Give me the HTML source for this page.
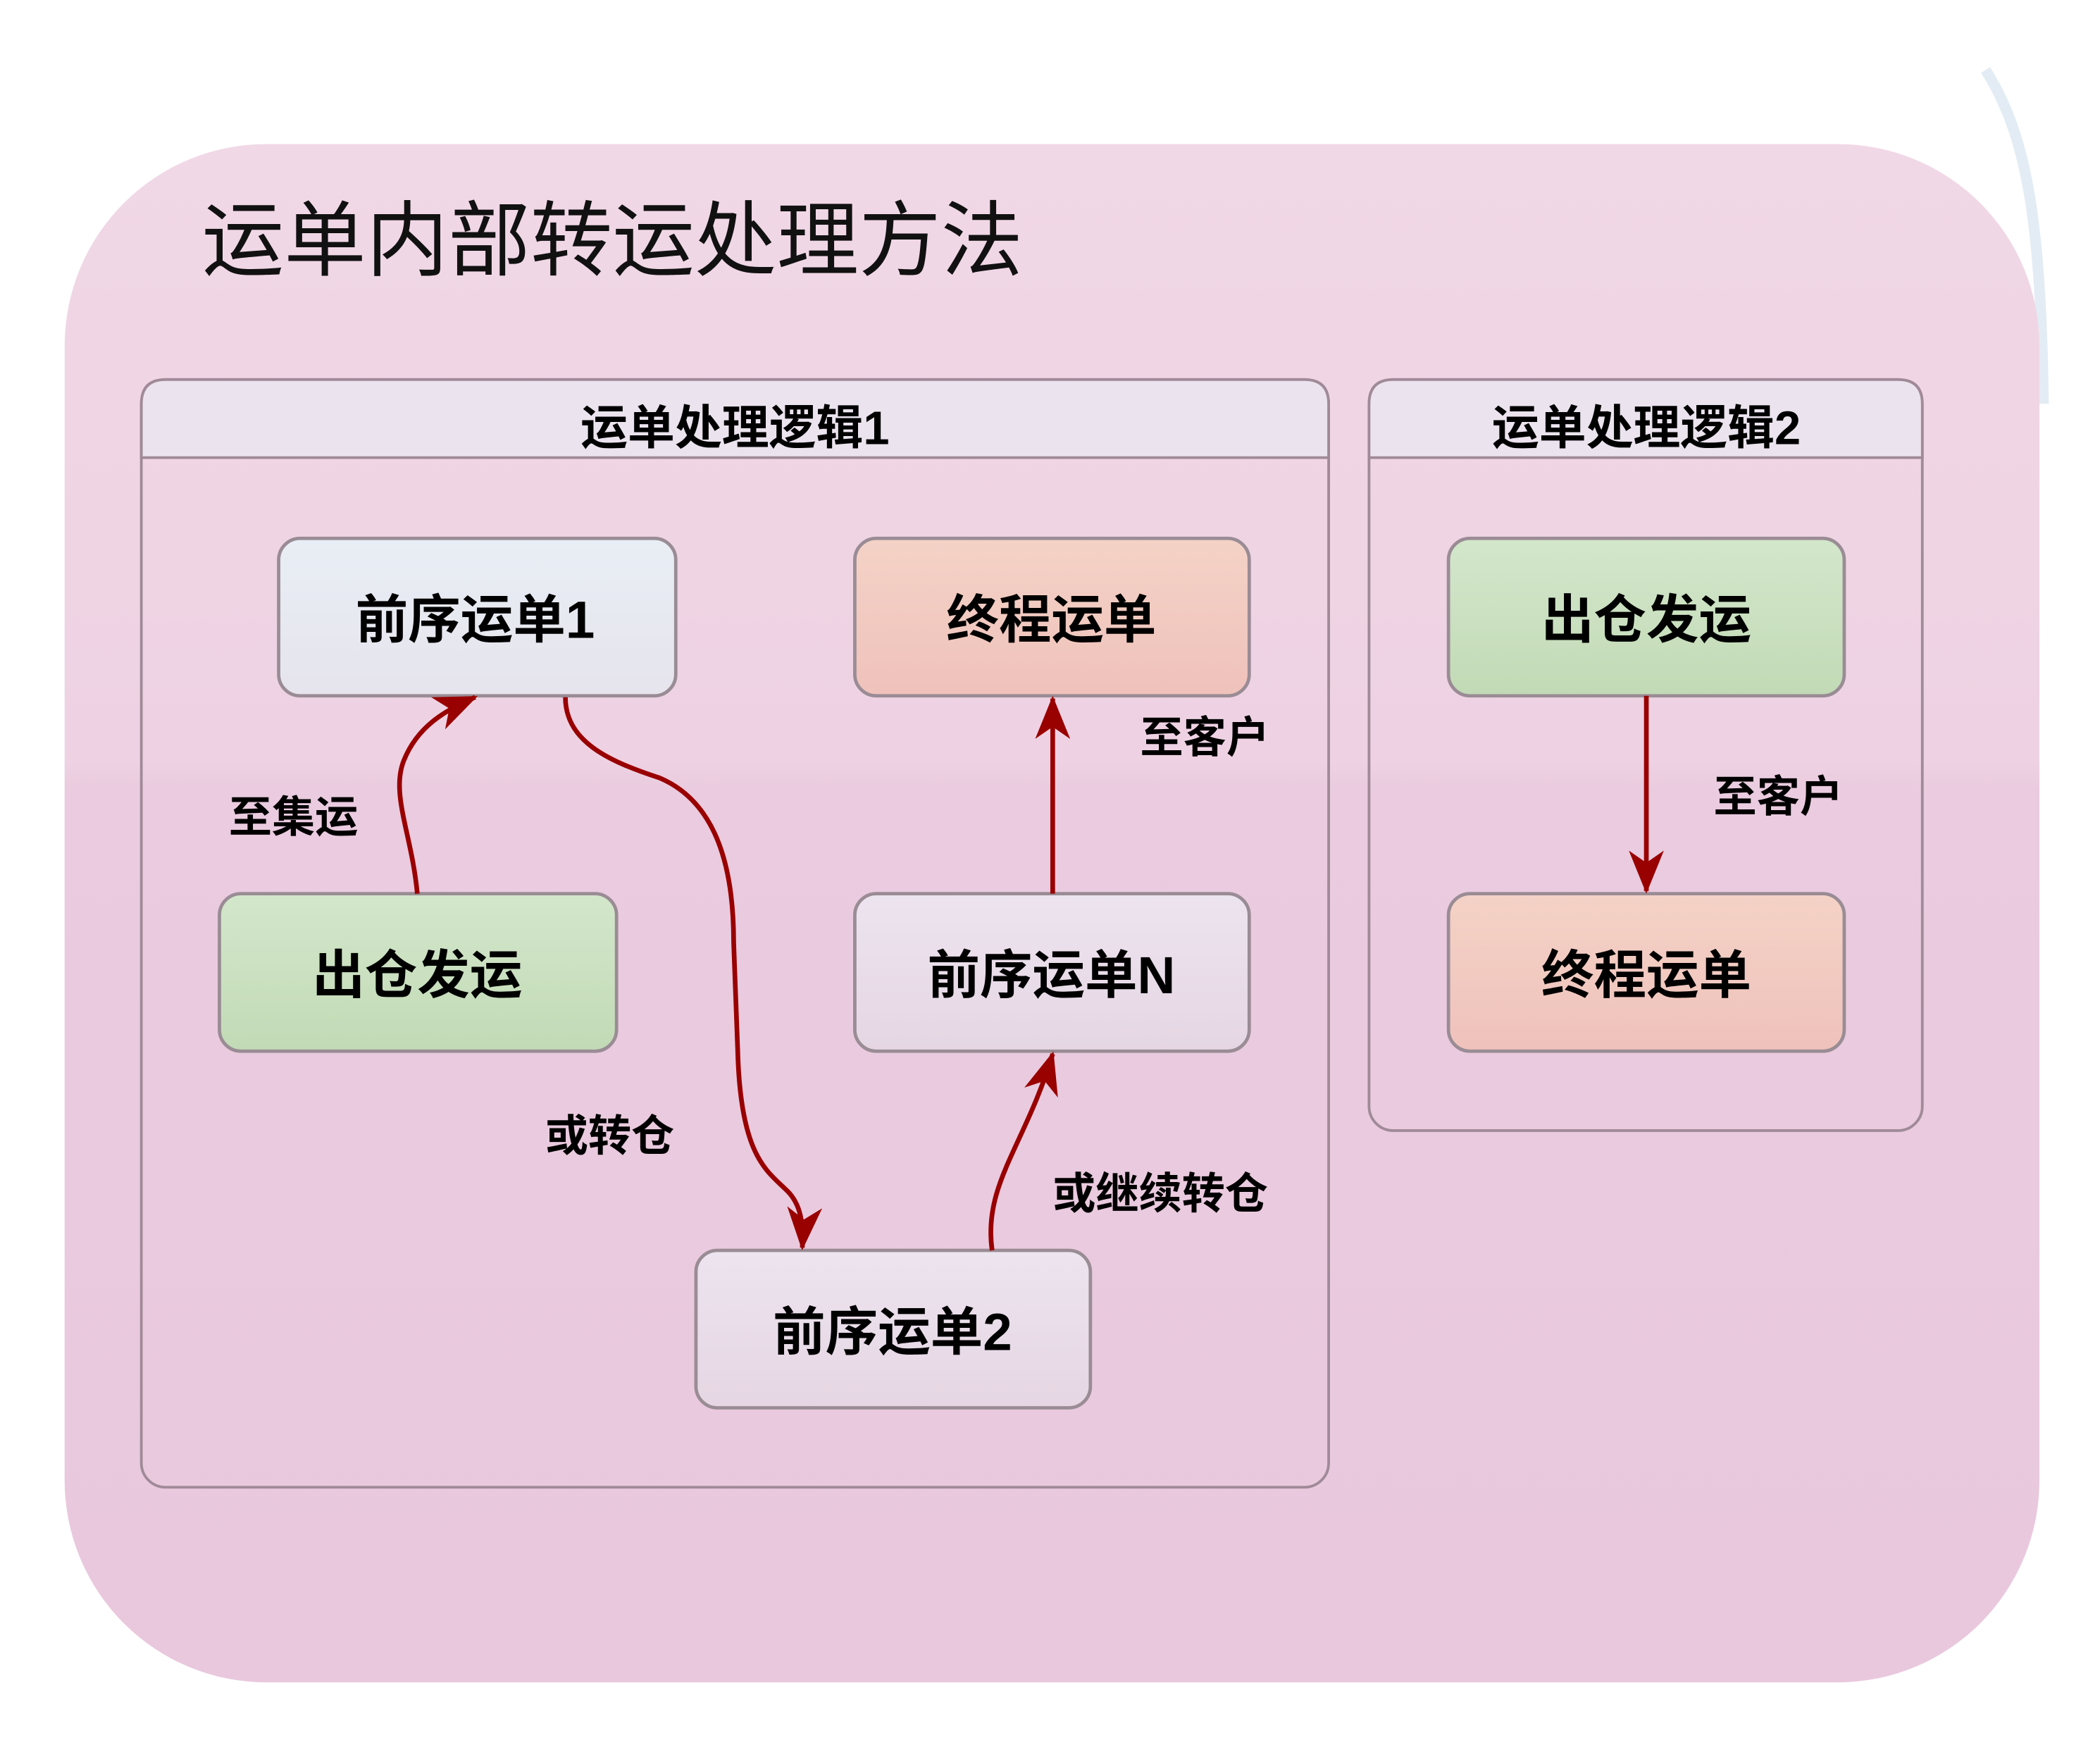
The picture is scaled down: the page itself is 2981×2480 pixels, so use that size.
<!DOCTYPE html>
<html><head><meta charset="utf-8"><style>
html,body{margin:0;padding:0;background:#fff;width:2981px;height:2480px;overflow:hidden}
svg{display:block}
text{font-family:"Liberation Sans","Noto Sans CJK SC",sans-serif}
</style></head><body>
<svg width="2981" height="2480" viewBox="0 0 1560 1298" preserveAspectRatio="none" xmlns="http://www.w3.org/2000/svg">
<defs>
<linearGradient id="bg" x1="0" y1="0" x2="0" y2="1"><stop offset="0" stop-color="#f1d8e6"/><stop offset="0.4" stop-color="#eed2e3"/><stop offset="0.42" stop-color="#eacbdf"/><stop offset="1" stop-color="#e9c8dd"/></linearGradient>
<linearGradient id="gb" x1="0" y1="0" x2="0" y2="1"><stop offset="0" stop-color="#e8eef5"/><stop offset="1" stop-color="#e6e4ec"/></linearGradient>
<linearGradient id="gr" x1="0" y1="0" x2="0" y2="1"><stop offset="0" stop-color="#f4d2c6"/><stop offset="1" stop-color="#efc2bb"/></linearGradient>
<linearGradient id="gg" x1="0" y1="0" x2="0" y2="1"><stop offset="0" stop-color="#d3e7cb"/><stop offset="1" stop-color="#c2dab6"/></linearGradient>
<linearGradient id="gp" x1="0" y1="0" x2="0" y2="1"><stop offset="0" stop-color="#ece4ef"/><stop offset="1" stop-color="#e6d6e3"/></linearGradient>
<marker id="ah" markerUnits="userSpaceOnUse" markerWidth="34" markerHeight="26" refX="30" refY="13" orient="auto" viewBox="0 0 34 26">
<path d="M0,0 L32,13 L0,26 L9,13 Z" fill="#990000"/></marker>
</defs>
<rect x="0" y="0" width="1560" height="1298" fill="#fff"/>
<path d="M1475,52 C1505,100 1516,160 1518,300" stroke="#e3ecf4" stroke-width="8" fill="none"/>
<rect x="48" y="107" width="1467" height="1143" rx="150" ry="150" fill="url(#bg)"/>
<text x="150" y="200" font-size="61" fill="#111">运单内部转运处理方法</text>

<rect x="105" y="282" width="882" height="823" rx="18" fill="none" stroke="#a08a98" stroke-width="2"/>
<path d="M105,340 L105,300 Q105,282 123,282 L969,282 Q987,282 987,300 L987,340 Z" fill="#ebe3ee" stroke="#a08a98" stroke-width="2"/>
<text x="546" y="330" font-size="35" font-weight="bold" text-anchor="middle" fill="#000">运单处理逻辑1</text>

<rect x="1017" y="282" width="411" height="558" rx="18" fill="none" stroke="#a08a98" stroke-width="2"/>
<path d="M1017,340 L1017,300 Q1017,282 1035,282 L1410,282 Q1428,282 1428,300 L1428,340 Z" fill="#ebe3ee" stroke="#a08a98" stroke-width="2"/>
<text x="1223" y="330" font-size="35" font-weight="bold" text-anchor="middle" fill="#000">运单处理逻辑2</text>

<g stroke="#9a8c95" stroke-width="2.5">
<rect x="207" y="400" width="295" height="117" rx="16" fill="url(#gb)"/>
<rect x="635" y="400" width="293" height="117" rx="16" fill="url(#gr)"/>
<rect x="163" y="664" width="295" height="117" rx="16" fill="url(#gg)"/>
<rect x="635" y="664" width="293" height="117" rx="16" fill="url(#gp)"/>
<rect x="517" y="929" width="293" height="117" rx="16" fill="url(#gp)"/>
<rect x="1076" y="400" width="294" height="117" rx="16" fill="url(#gg)"/>
<rect x="1076" y="664" width="294" height="117" rx="16" fill="url(#gr)"/>
</g>
<g font-size="39" font-weight="bold" text-anchor="middle" fill="#000">
<text x="353" y="474">前序运单1</text>
<text x="781" y="474">终程运单</text>
<text x="310" y="738">出仓发运</text>
<text x="781" y="738">前序运单N</text>
<text x="663" y="1003">前序运单2</text>
<text x="1223" y="474">出仓发运</text>
<text x="1223" y="738">终程运单</text>
</g>
<g stroke="#990000" stroke-width="3.5" fill="none" marker-end="url(#ah)">
<path d="M310,664 C306,620 290,590 300,565 C310,540 330,528 353,518"/>
<path d="M420,518 C420,550 450,565 490,578 C530,595 545,640 545,700 L548,780 C550,860 570,870 585,885 C595,895 597,910 596,927"/>
<path d="M782,664 L782,519"/>
<path d="M737,929 C730,880 762,850 782,783"/>
<path d="M1223,517 L1223,662"/>
</g>
<g font-size="32" font-weight="bold" fill="#000">
<text x="170" y="618">至集运</text>
<text x="405" y="855">或转仓</text>
<text x="847" y="559">至客户</text>
<text x="782" y="898">或继续转仓</text>
<text x="1273" y="603">至客户</text>
</g>
</svg>
</body></html>
